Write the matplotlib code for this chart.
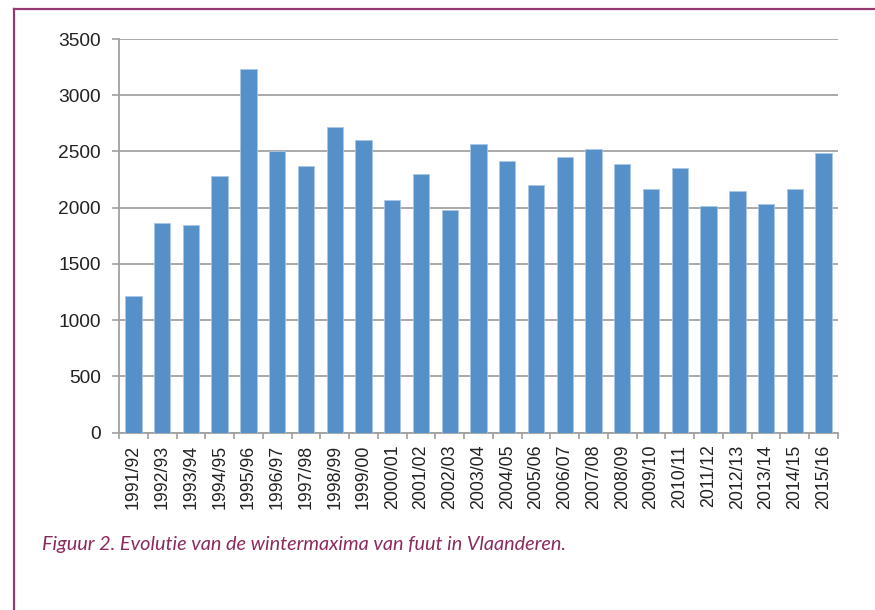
import matplotlib
matplotlib.use("Agg")
import matplotlib.pyplot as plt
from matplotlib.lines import Line2D
import numpy as np

seasons = ["1991/92", "1992/93", "1993/94", "1994/95", "1995/96", "1996/97",
           "1997/98", "1998/99", "1999/00", "2000/01", "2001/02", "2002/03",
           "2003/04", "2004/05", "2005/06", "2006/07", "2007/08", "2008/09",
           "2009/10", "2010/11", "2011/12", "2012/13", "2013/14", "2014/15",
           "2015/16"]
maxima = [1215, 1865, 1850, 2285, 3235, 2500, 2368, 2718, 2602, 2066, 2300, 1982,
          2566, 2415, 2202, 2451, 2519, 2386, 2166, 2350, 2015, 2149, 2033, 2166,
          2484]
yticks = [0, 500, 1000, 1500, 2000, 2500, 3000, 3500]
caption = "Figuur 2. Evolutie van de wintermaxima van fuut in Vlaanderen."

plt.rcParams['font.family'] = ['Liberation Sans', 'DejaVu Sans']

fig = plt.figure(figsize=(8.75, 6.10), dpi=100)
ax = fig.add_axes([119/875, 1-432.7/610, (838-119)/875, (432.7-39)/610])

x = np.arange(len(seasons))
ax.bar(x, maxima, width=0.57, color='#5590C8', edgecolor='#A9C6E6',
       linewidth=0.6, zorder=3)

ax.set_xlim(-0.5, len(seasons) - 0.5)
ax.set_ylim(0, 3500)
ax.set_yticks(yticks)
ax.set_yticklabels([str(v) for v in yticks])
ax.grid(axis='y', color='#A3A3A3', linewidth=1.3, zorder=0)
ax.set_axisbelow(True)

ax.set_xticks(x)
ax.set_xticklabels(seasons, rotation=90, va='top', ha='center')
ax.set_xticks(np.arange(len(seasons) + 1) - 0.5, minor=True)
ax.tick_params(axis='x', which='major', length=0, pad=8.5, labelsize=12.8,
               labelcolor='#222222')
ax.tick_params(axis='x', which='minor', length=4.5, width=1.2, color='#A0A0A0',
               direction='out')
ax.tick_params(axis='y', length=5, width=1.2, color='#A0A0A0', pad=8,
               labelsize=13.8, labelcolor='#222222')

for s in ['top', 'right']:
    ax.spines[s].set_visible(False)
for s in ['left', 'bottom']:
    ax.spines[s].set_color('#A0A0A0')
    ax.spines[s].set_linewidth(1.3)

# frame lines (purple)
fig.add_artist(Line2D([14/875, 1.0], [1-9/610, 1-9/610], transform=fig.transFigure,
                      color='#943B73', linewidth=1.6))
fig.add_artist(Line2D([14/875, 14/875], [0.0, 1-9/610], transform=fig.transFigure,
                      color='#943B73', linewidth=1.6))

fig.text(42/875, 1-550/610, caption, fontsize=14.3, style='italic',
         family=['Lato', 'DejaVu Sans'], color='#8C2A5E', ha='left',
         va='baseline')

fig.savefig("out.png", dpi=100)
